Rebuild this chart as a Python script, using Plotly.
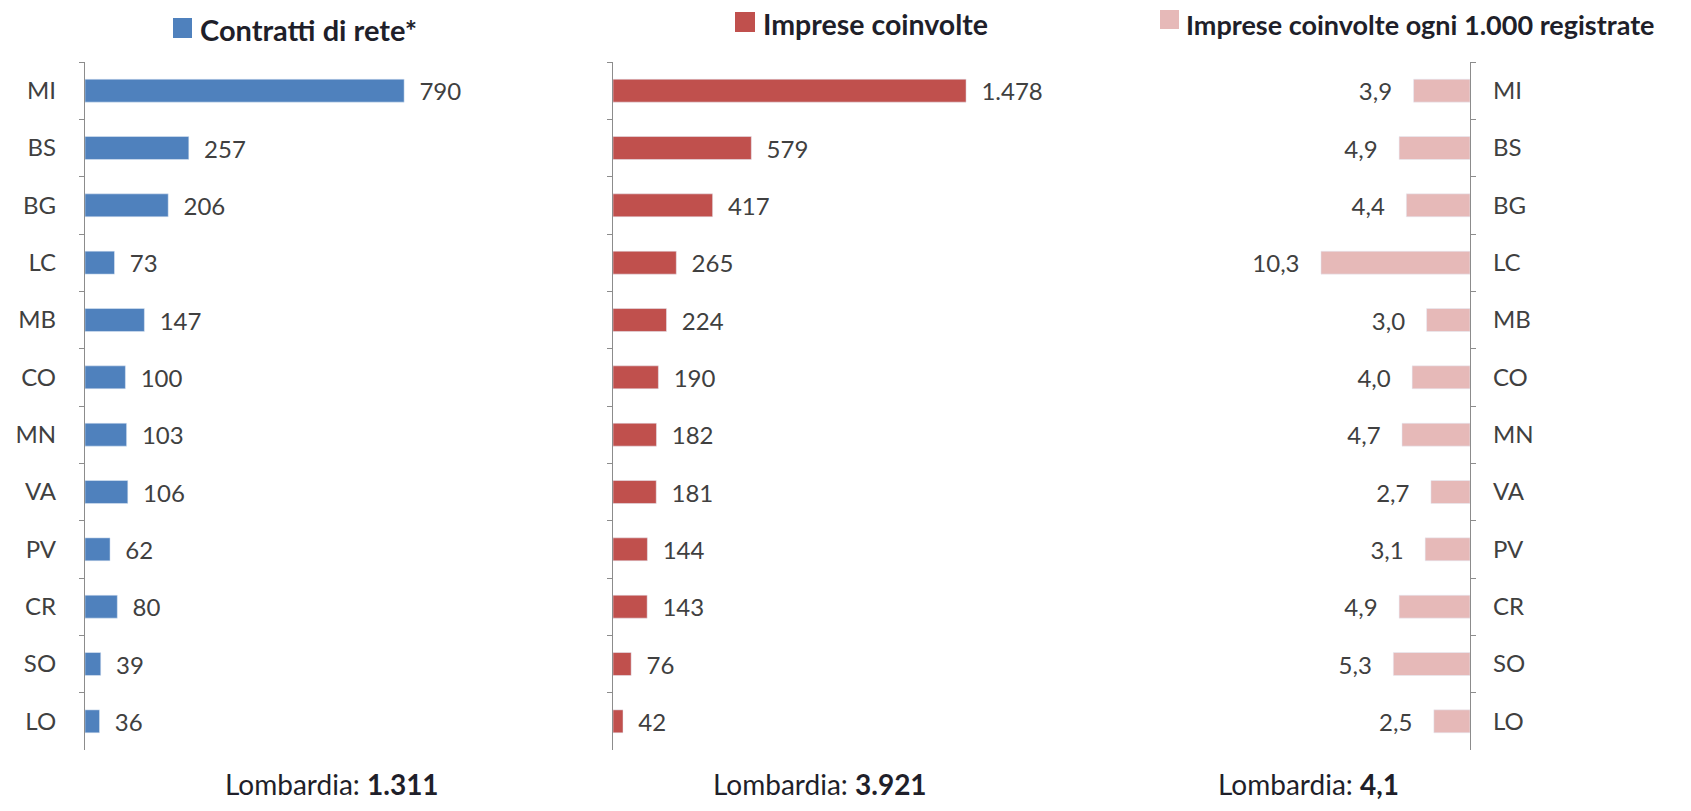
import plotly.graph_objects as go

provinces = ["MI", "BS", "BG", "LC", "MB", "CO", "MN", "VA", "PV", "CR", "SO", "LO"]
contratti = [790, 257, 206, 73, 147, 100, 103, 106, 62, 80, 39, 36]
imprese = [1478, 579, 417, 265, 224, 190, 182, 181, 144, 143, 76, 42]
imprese_1000 = [3.9, 4.9, 4.4, 10.3, 3.0, 4.0, 4.7, 2.7, 3.1, 4.9, 5.3, 2.5]

titles = ["Contratti di rete*", "Imprese coinvolte", "Imprese coinvolte ogni 1.000 registrate"]
totals = ["1.311", "3.921", "4,1"]
colors = ["#4F81BD", "#C0504D", "#E6B9B8"]

OFF = 8  # page body margin
W, H = 1691 - 2 * OFF, 811 - 2 * OFF
FONT = "Lato"
TXT = "#404040"
DARK = "#1F1F2A"
NB = "\u00a0"


def px(x):
    return (x - OFF) / W


def py(y):
    return 1 - (y - OFF) / H


fig = go.Figure()

fig.add_trace(go.Bar(
    x=contratti, y=provinces, orientation="h", marker_color=colors[0],
    width=0.4, textposition="outside",
    texttemplate=NB + NB + "%{x:,}", constraintext="none", cliponaxis=False,
    textfont=dict(size=24, color=TXT, family=FONT), xaxis="x", yaxis="y",
    showlegend=False, hoverinfo="skip"))

fig.add_trace(go.Bar(
    x=imprese, y=provinces, orientation="h", marker_color=colors[1],
    width=0.4, textposition="outside",
    texttemplate=NB + NB + "%{x:,}", constraintext="none", cliponaxis=False,
    textfont=dict(size=24, color=TXT, family=FONT), xaxis="x2", yaxis="y2",
    showlegend=False, hoverinfo="skip"))

fig.add_trace(go.Bar(
    x=imprese_1000, y=provinces, orientation="h", marker_color=colors[2],
    width=0.4, textposition="outside",
    texttemplate="%{x:.1f}" + NB + NB + NB, constraintext="none", cliponaxis=False,
    textfont=dict(size=24, color=TXT, family=FONT), xaxis="x3", yaxis="y3",
    showlegend=False, hoverinfo="skip"))

ydom = [py(750), py(62)]
yax_common = dict(
    type="category", categoryorder="array", categoryarray=provinces,
    autorange="reversed", domain=ydom, showline=True, linecolor="#8C8C8C",
    linewidth=1.2, ticks="outside", tickson="boundaries", ticklen=5,
    tickcolor="#8C8C8C", showgrid=False, zeroline=False,
    tickfont=dict(size=24, color=TXT, family=FONT),
)
xax_common = dict(showgrid=False, zeroline=False, showticklabels=False,
                  ticks="", showline=False, fixedrange=True)

fig.update_layout(
    width=W, height=H, margin=dict(l=0, r=0, t=0, b=0),
    plot_bgcolor="white", paper_bgcolor="white",
    separators=",.",
    font=dict(family=FONT, color=TXT),
    xaxis=dict(domain=[px(85), px(470)], range=[0, 953], anchor="y", **xax_common),
    yaxis=dict(anchor="x", side="left", ticklabelstandoff=23, **yax_common),
    xaxis2=dict(domain=[px(613), px(1000)], range=[0, 1620], anchor="y2", **xax_common),
    yaxis2=dict(anchor="x2", side="left", showticklabels=False, **yax_common),
    xaxis3=dict(domain=[px(1200), px(1470)], range=[18.66, 0], anchor="y3", **xax_common),
    yaxis3=dict(anchor="x3", side="right", ticklabelstandoff=17, **yax_common),
)

# Legend-like headers (square + bold text)
legend_sq = [(173, 18, 192, 38), (735, 12, 755, 32), (1160, 10, 1179, 29)]
legend_tx = [198, 761, 1184]
legend_size = [29, 28.5, 27]
legend_dy = [2, 2, 5]
for (x0, y0, x1, y1), tx, size, dy, title, col in zip(legend_sq, legend_tx, legend_size, legend_dy, titles, colors):
    fig.add_shape(type="rect", xref="paper", yref="paper",
                  x0=px(x0), x1=px(x1), y0=py(y1), y1=py(y0),
                  fillcolor=col, line=dict(width=0))
    fig.add_annotation(xref="paper", yref="paper", x=px(tx), y=py((y0 + y1) / 2 + dy),
                       text=f"<b>{title}</b>", showarrow=False, xanchor="left",
                       yanchor="middle", font=dict(size=size, color=DARK, family=FONT))

# Bottom totals
total_x = [332, 820, 1308]
for xc, tot in zip(total_x, totals):
    fig.add_annotation(xref="paper", yref="paper", x=px(xc), y=0,
                       text=f"Lombardia: <b>{tot}</b>", showarrow=False,
                       xanchor="center", yanchor="bottom",
                       font=dict(size=28, color=DARK, family=FONT))

fig.write_html("out.html", config={"displayModeBar": False})
